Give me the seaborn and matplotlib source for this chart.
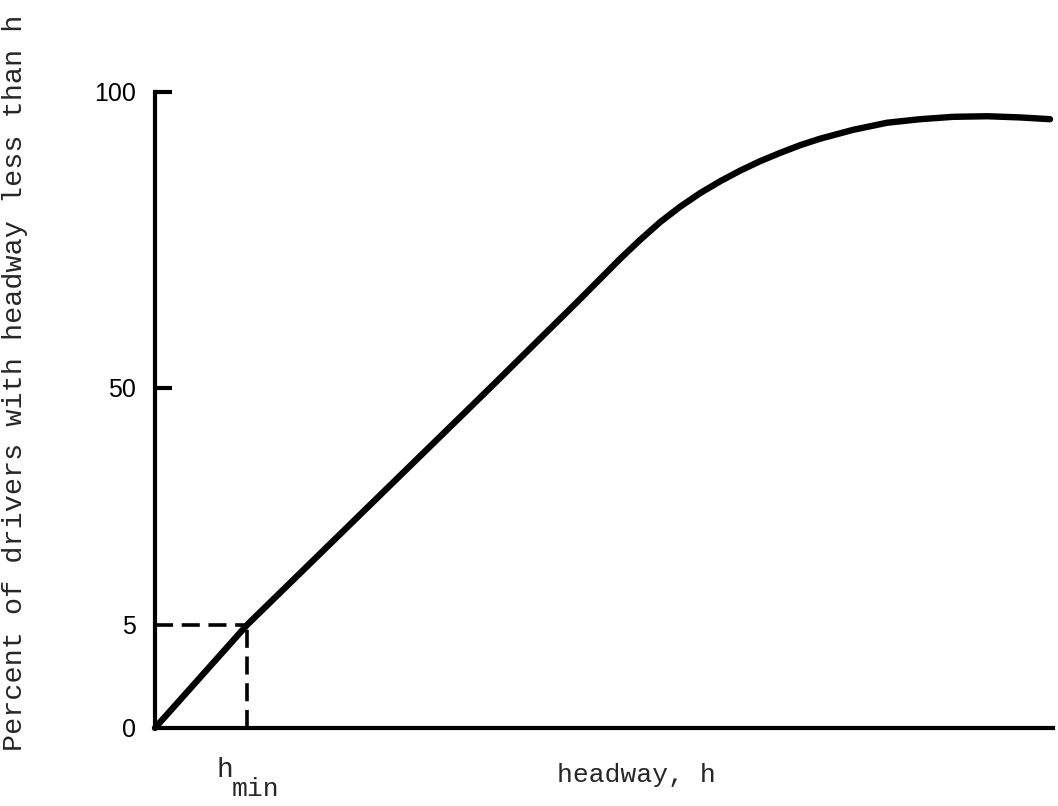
import numpy as np
import matplotlib
matplotlib.use("Agg")
import matplotlib.pyplot as plt
import seaborn as sns

# headway (arbitrary units) vs percent of drivers with headway less than h
headway = [0.0, 0.92, 3.35, 4.25, 4.45, 4.65, 4.85, 5.05, 5.25, 5.45,
           5.65, 5.85, 6.05, 6.25, 6.45, 6.65, 6.98, 7.32, 7.65, 7.98,
           8.32, 8.65, 8.95]
percent = [0.0, 5.0, 50.0, 65.0, 68.4, 71.8, 75.0, 78.0, 80.6, 82.9,
           84.9, 86.7, 88.3, 89.7, 91.0, 92.1, 93.6, 94.8, 95.4, 95.8,
           95.9, 95.7, 95.4]
h_min = 0.92
p_min = 5
y_ticks = [0, 5, 50, 100]
y_tick_labels = ["0", "5", "50", "100"]
# schematic (non-linear) spacing of the y ticks on the original drawing
y_tick_frac = [0.0, 0.162, 0.5346, 1.0]

sns.set_theme(style="white")
plt.rcParams["font.family"] = ["Liberation Mono", "DejaVu Sans Mono"]


def fwd(v):
    return np.interp(v, y_ticks, y_tick_frac)


def inv(p):
    return np.interp(p, y_tick_frac, y_ticks)


fig = plt.figure(figsize=(10.58, 8.06), dpi=100)
ax = fig.add_axes([0.1465, 0.0968, 0.8488, 0.7891])
ax.set_yscale("function", functions=(fwd, inv))

sns.lineplot(x=headway, y=percent, ax=ax, sort=False, color="black",
             linewidth=4.6, solid_capstyle="round", solid_joinstyle="round",
             clip_on=False)

# dashed guides to h_min / 5 percent
ax.plot([0, h_min], [p_min, p_min], color="black", linewidth=2.6,
        dashes=(5, 2.4))
ax.plot([h_min, h_min], [0, p_min], color="black", linewidth=2.6,
        dashes=(5, 2.4))

ax.set_xlim(0, 8.98)
ax.set_ylim(0, 100)

for side in ["top", "right"]:
    ax.spines[side].set_visible(False)
for side in ["left", "bottom"]:
    ax.spines[side].set_linewidth(3)
    ax.spines[side].set_color("black")

ax.set_xticks([])
ax.set_yticks(y_ticks)
ax.set_yticklabels(y_tick_labels, fontfamily="Liberation Sans", fontsize=18)
ax.yaxis.set_minor_locator(matplotlib.ticker.NullLocator())
ax.tick_params(axis="y", direction="in", length=12, width=3, pad=14,
               colors="black", left=True)
for tick, val in zip(ax.yaxis.get_major_ticks(), y_ticks):
    if val in (0, 5):
        tick.tick1line.set_visible(False)

ax.set_ylabel("Percent of drivers with headway less than h", fontsize=20.5)
ax.yaxis.set_label_coords(-0.1414, 0.5425)

ax.text(0.5356, -0.085, "headway, h", transform=ax.transAxes,
        ha="center", va="baseline", fontsize=19)
trans = matplotlib.transforms.blended_transform_factory(ax.transData, ax.transAxes)
ax.text(0.62, -0.077, "h", transform=trans, ha="left", va="baseline",
        fontsize=20)
ax.text(0.77, -0.107, "min", transform=trans, ha="left", va="baseline",
        fontsize=19)

fig.savefig("out.png", dpi=100)
